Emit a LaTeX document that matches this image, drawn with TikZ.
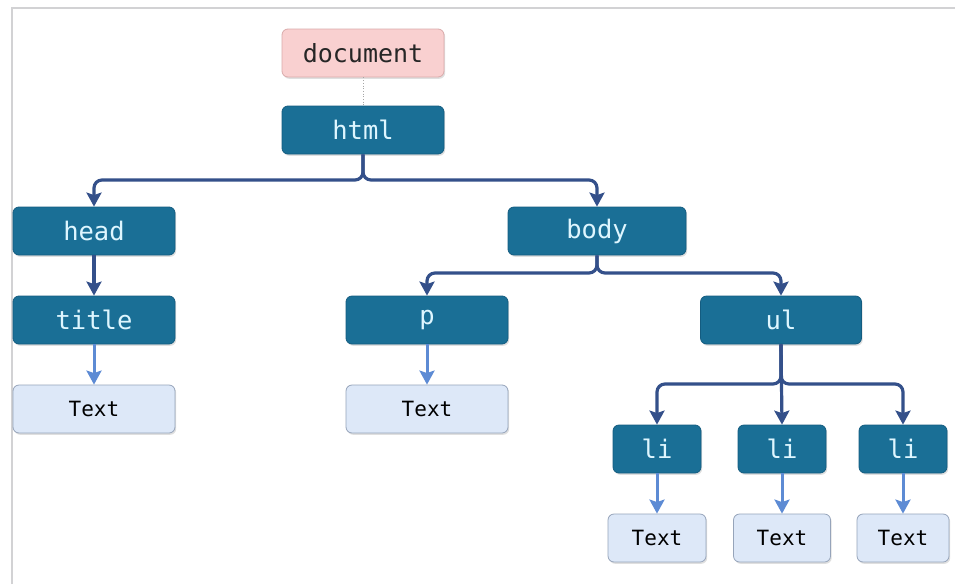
\documentclass[tikz,border=0pt]{standalone}
\usepackage{fontspec}
\setmonofont{DejaVu Sans Mono}
\usetikzlibrary{arrows.meta,shadows}
\definecolor{nodefill}{RGB}{26,111,150}
\definecolor{nodedraw}{RGB}{20,92,128}
\definecolor{nodetext}{RGB}{222,246,255}
\definecolor{leaffill}{RGB}{221,232,248}
\definecolor{leafdraw}{RGB}{150,164,186}
\definecolor{docfill}{RGB}{249,208,208}
\definecolor{docdraw}{RGB}{218,170,170}
\definecolor{darkline}{RGB}{52,80,138}
\definecolor{lightline}{RGB}{93,139,212}
\definecolor{framegray}{RGB}{210,210,212}
\tikzset{
  elem/.style={draw=nodedraw, fill=nodefill, rounded corners=6pt, line width=0.8pt,
    minimum height=48pt, text=nodetext, font=\ttfamily\fontsize{25.5}{25.5}\selectfont,
    drop shadow={shadow xshift=1.2pt, shadow yshift=-1.8pt, opacity=0.25}},
  leaf/.style={draw=leafdraw, fill=leaffill, rounded corners=6pt, line width=0.8pt,
    minimum height=48pt, text=black, font=\ttfamily\fontsize{21}{21}\selectfont,
    drop shadow={shadow xshift=1.2pt, shadow yshift=-1.8pt, opacity=0.25}},
  docbox/.style={draw=docdraw, fill=docfill, rounded corners=6pt, line width=0.8pt,
    minimum height=48pt, text=black!85, font=\ttfamily\fontsize{25}{25}\selectfont,
    drop shadow={shadow xshift=1.2pt, shadow yshift=-1.8pt, opacity=0.25}},
  darkconn/.style={draw=darkline, line width=3.2pt, rounded corners=8pt,
    -{Stealth[length=14pt,width=15pt,inset=2.5pt]}},
  lightconn/.style={draw=lightline, line width=3pt,
    -{Stealth[length=14pt,width=15pt,inset=2.5pt]}},
}
\begin{document}
\begin{tikzpicture}[x=1pt,y=-1pt]
\useasboundingbox (0,0) rectangle (955,584);
\fill[white] (0,0) rectangle (955,584);
\draw[framegray, line width=1.2pt] (12,584) -- (12,8) -- (955,8);

\node[docbox, minimum width=162pt] (doc) at (363,53) {document};
\node[elem, minimum width=162pt] (html) at (363,130) {html};
\node[elem, minimum width=162pt] (head) at (94,231) {head};
\node[elem, minimum width=178pt] (body) at (597,231) {body};
\node[elem, minimum width=162pt] (title) at (94,320) {title};
\node[elem, minimum width=162pt] (p) at (427,320) {p};
\node[elem, minimum width=161pt] (ul) at (781,320) {ul};
\node[leaf, minimum width=162pt] (t1) at (94,409) {Text};
\node[leaf, minimum width=162pt] (t2) at (427,409) {Text};
\node[elem, minimum width=88pt] (li1) at (657,449) {li};
\node[elem, minimum width=88pt] (li2) at (782,449) {li};
\node[elem, minimum width=88pt] (li3) at (903,449) {li};
\node[leaf, minimum width=98pt] (t3) at (657,538) {Text};
\node[leaf, minimum width=97pt] (t4) at (782,538) {Text};
\node[leaf, minimum width=92pt] (t5) at (903,538) {Text};

\coordinate (j1) at (363,180);
\coordinate (j2) at (597,273);
\coordinate (j3) at (781,384);

\draw[gray!70, line width=0.7pt, dotted] (doc.south) -- (html.north);

\draw[darkconn] (html.south) -- (j1) -| (head.north);
\draw[darkconn] (html.south) -- (j1) -| (body.north);
\draw[darkconn] (head.south) -- (title.north);
\draw[darkconn] (body.south) -- (j2) -| (p.north);
\draw[darkconn] (body.south) -- (j2) -| (ul.north);
\draw[darkconn] (ul.south) -- (j3) -| (li1.north);
\draw[darkconn] (ul.south) -- (li2.north);
\draw[darkconn] (ul.south) -- (j3) -| (li3.north);

\draw[lightconn] (title.south) -- (t1.north);
\draw[lightconn] (p.south) -- (t2.north);
\draw[lightconn] (li1.south) -- (t3.north);
\draw[lightconn] (li2.south) -- (t4.north);
\draw[lightconn] (li3.south) -- (t5.north);
\end{tikzpicture}
\end{document}
